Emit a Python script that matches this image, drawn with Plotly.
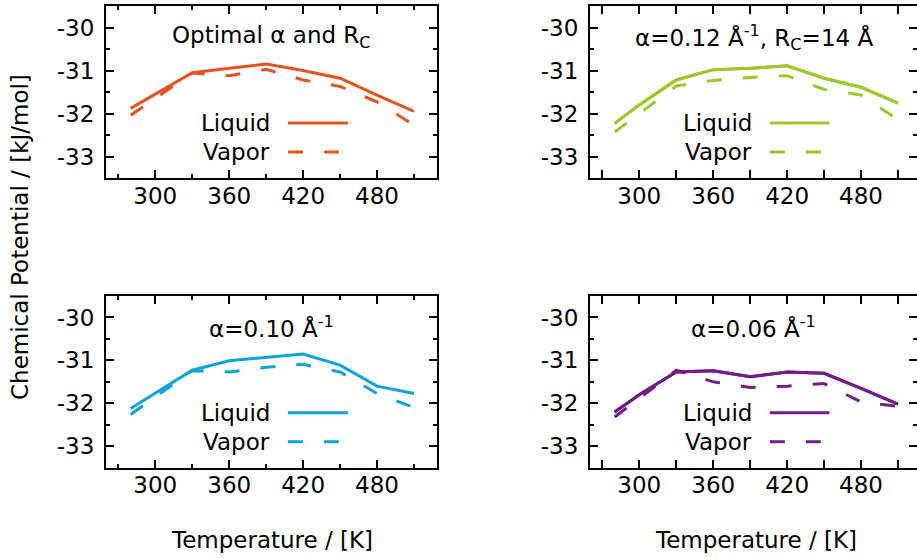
import plotly.graph_objects as go

# Temperatures at which the chemical potential was sampled (K)
temperatures = [280, 300, 330, 360, 390, 420, 450, 480, 510]

# Chemical potential (kJ/mol) for each damping/cutoff setting
optimal_liquid = [-31.88, -31.55, -31.05, -30.95, -30.85, -31.00, -31.18, -31.57, -31.95]
optimal_vapor = [-32.04, -31.65, -31.06, -31.12, -30.97, -31.22, -31.37, -31.73, -32.27]

a012_liquid = [-32.23, -31.80, -31.22, -30.98, -30.95, -30.89, -31.18, -31.39, -31.76]
a012_vapor = [-32.43, -32.00, -31.36, -31.23, -31.16, -31.12, -31.44, -31.57, -32.14]

a010_liquid = [-32.12, -31.76, -31.23, -31.01, -30.93, -30.85, -31.11, -31.60, -31.77]
a010_vapor = [-32.26, -31.85, -31.24, -31.27, -31.16, -31.09, -31.27, -31.77, -32.10]

a006_liquid = [-32.20, -31.80, -31.27, -31.24, -31.38, -31.27, -31.30, -31.65, -32.02]
a006_vapor = [-32.32, -31.88, -31.23, -31.50, -31.63, -31.60, -31.54, -31.97, -32.07]

panel_titles = [
    "Optimal α and R<sub>C</sub>",
    "α=0.12 Å<sup>-1</sup>, R<sub>C</sub>=14 Å",
    "α=0.10 Å<sup>-1</sup>",
    "α=0.06 Å<sup>-1</sup>",
]
panel_colors = ["#E8521F", "#9BC82A", "#0AA3DA", "#741C88"]
liquid_sets = [optimal_liquid, a012_liquid, a010_liquid, a006_liquid]
vapor_sets = [optimal_vapor, a012_vapor, a010_vapor, a006_vapor]

y_tick_values = [-30, -31, -32, -33]
y_tick_labels = ["-30", "-31", "-32", "-33"]
series_names = ["Liquid", "Vapor"]

W, H = 917, 558
FONT = "DejaVu Sans"
FS = 23
DASH = "15px,21px"

# panel frames in pixels: (left, right, top, bottom)
frames = [
    (106, 436.7, 6, 178),
    (590, 917, 6, 178),
    (106, 436.7, 296, 467.7),
    (590, 917, 296, 467.7),
]
X_LEFT = 260.0
PX_PER_K = 1.232
Y_RANGE = [-33.5, -29.5]

fig = go.Figure()
layout = dict(
    width=W, height=H,
    margin=dict(l=0, r=0, t=0, b=0),
    paper_bgcolor="white", plot_bgcolor="white",
    showlegend=False,
    font=dict(family=FONT, size=FS, color="black"),
)
annotations = []
shapes = []

for i in range(4):
    n = i + 1
    xa = "x" if n == 1 else f"x{n}"
    ya = "y" if n == 1 else f"y{n}"
    xkey = "xaxis" if n == 1 else f"xaxis{n}"
    ykey = "yaxis" if n == 1 else f"yaxis{n}"
    left, right, top, bottom = frames[i]
    color = panel_colors[i]
    right_col = i % 2 == 1

    fig.add_trace(go.Scatter(
        x=temperatures, y=liquid_sets[i], xaxis=xa, yaxis=ya, mode="lines",
        name=series_names[0], line=dict(color=color, width=3),
    ))
    fig.add_trace(go.Scatter(
        x=temperatures, y=vapor_sets[i], xaxis=xa, yaxis=ya, mode="lines",
        name=series_names[1], line=dict(color=color, width=3, dash=DASH),
    ))

    x_range = [X_LEFT, X_LEFT + (right - left) / PX_PER_K]
    layout[xkey] = dict(
        domain=[left / W, right / W], anchor=ya, range=x_range,
        tickmode="linear", tick0=0, dtick=60,
        ticks="inside", ticklen=8, tickwidth=1.5, tickcolor="black",
        minor=dict(tickmode="linear", tick0=0, dtick=30, ticks="inside",
                   ticklen=4, tickwidth=1.5, tickcolor="black"),
        showline=True, linewidth=2, linecolor="black", mirror="allticks",
        showgrid=False, zeroline=False,
        tickfont=dict(family=FONT, size=FS), ticklabelstandoff=-4,
    )
    layout[ykey] = dict(
        domain=[(H - bottom) / H, (H - top) / H], anchor=xa, range=Y_RANGE,
        tickmode="array", tickvals=y_tick_values, ticktext=y_tick_labels,
        ticks="inside", ticklen=8, tickwidth=1.5, tickcolor="black",
        minor=dict(tickmode="linear", tick0=0, dtick=0.5, ticks="inside",
                   ticklen=4, tickwidth=1.5, tickcolor="black"),
        showline=True, linewidth=2, linecolor="black",
        mirror=False if right_col else "allticks",
        showgrid=False, zeroline=False,
        tickfont=dict(family=FONT, size=FS), ticklabelstandoff=5,
    )
    if right_col:
        # right-hand tick marks of the frame that runs off the page edge
        okey = f"yaxis{n + 3}"
        oname = f"y{n + 3}"
        layout[okey] = dict(
            overlaying=ya, anchor=xa, side="right", range=Y_RANGE,
            tickmode="array", tickvals=y_tick_values,
            ticks="inside", ticklen=8, tickwidth=1.5, tickcolor="black",
            minor=dict(tickmode="linear", tick0=0, dtick=0.5, ticks="inside",
                       ticklen=4, tickwidth=1.5, tickcolor="black"),
            showticklabels=False, showline=False, showgrid=False, zeroline=False,
        )
        fig.add_trace(go.Scatter(
            x=temperatures, y=liquid_sets[i], xaxis=xa, yaxis=oname,
            mode="lines", line=dict(color=color, width=3), hoverinfo="skip",
        ))

    # panel label
    annotations.append(dict(
        text=panel_titles[i], xref=f"{xa} domain", yref=f"{ya} domain",
        x=0.5, y=0.818, xanchor="center", yanchor="middle", showarrow=False,
        font=dict(family=FONT, size=FS),
    ))
    # in-panel key: label then line sample
    for row, (name, yfrac) in enumerate(zip(series_names, [0.32, 0.151])):
        annotations.append(dict(
            text=name, xref=f"{xa} domain", yref=f"{ya} domain",
            x=0.502, y=yfrac, xanchor="right", yanchor="middle",
            showarrow=False, font=dict(family=FONT, size=FS),
        ))
        shapes.append(dict(
            type="line", xref=f"{xa} domain", yref=f"{ya} domain",
            x0=0.55, x1=0.732, y0=yfrac, y1=yfrac,
            line=dict(color=color, width=3, dash="solid" if row == 0 else DASH),
        ))

# shared axis titles
for xc in [271.5, 755.5]:
    annotations.append(dict(
        text="Temperature / [K]", xref="paper", yref="paper",
        x=xc / W, y=(H - 540) / H, xanchor="center", yanchor="middle",
        showarrow=False, font=dict(family=FONT, size=FS),
    ))
annotations.append(dict(
    text="Chemical Potential / [kJ/mol]", xref="paper", yref="paper",
    x=20 / W, y=(H - 237) / H, xanchor="center", yanchor="middle",
    textangle=-90, showarrow=False, font=dict(family=FONT, size=FS),
))

layout["annotations"] = annotations
layout["shapes"] = shapes
fig.update_layout(**layout)
fig.write_html("out.html")
